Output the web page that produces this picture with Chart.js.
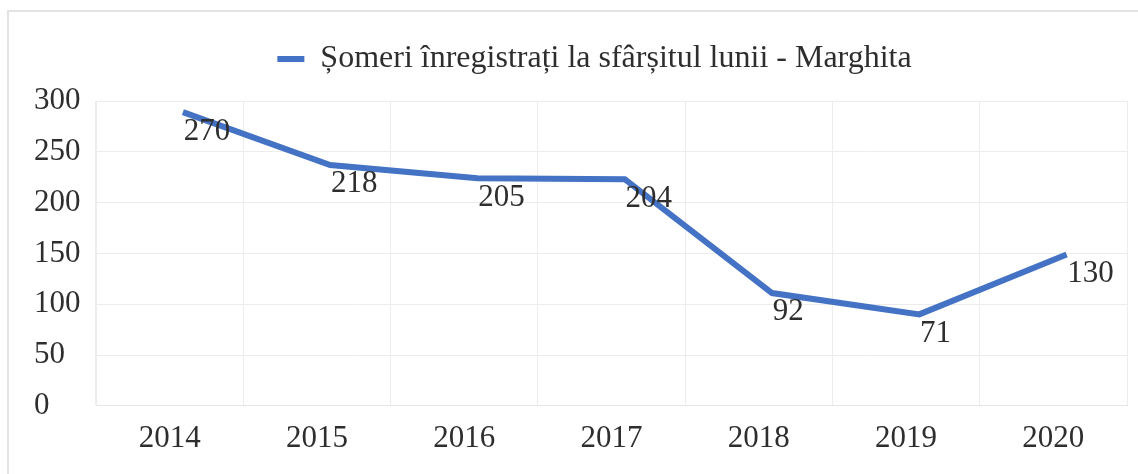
<!DOCTYPE html>
<html>
<head>
<meta charset="utf-8">
<script src="https://cdn.jsdelivr.net/npm/chart.js@4"></script>
<style>
  html, body { margin: 0; padding: 0; background: #fff; }
  #wrap { position: relative; width: 1138px; height: 474px; overflow: hidden; }
  #frame { position: absolute; left: 7px; top: 10px; width: 1200px; height: 500px;
           border-left: 2px solid #e3e3e3; border-top: 2px solid #e3e3e3; box-sizing: border-box; }
  canvas { position: absolute; left: 0; top: 0; }
</style>
</head>
<body>
<div id="wrap">
  <div id="frame"></div>
  <canvas id="c" width="1138" height="474"></canvas>
</div>
<script>
const categories = ['2014', '2015', '2016', '2017', '2018', '2019', '2020'];
const values = [270, 218, 205, 204, 92, 71, 130];
const seriesLabel = 'Șomeri înregistrați la sfârșitul lunii - Marghita';
const yTicks = [0, 50, 100, 150, 200, 250, 300];

const FONT = 'Liberation Serif';
const TEXT = '#2e2e2e';
const BLUE = '#4472C4';

const legendGap = {
  id: 'legendGap',
  beforeInit(chart) {
    const origFit = chart.legend.fit;
    chart.legend.fit = function () {
      origFit.call(this);
      this.height += 16;
    };
  },
  afterLayout(chart) {
    chart.legend.left += 14;
    chart.legend.right += 14;
  }
};

const valueLabels = {
  id: 'valueLabels',
  afterDatasetsDraw(chart) {
    const ctx = chart.ctx;
    const xs = chart.scales.x, ys = chart.scales.y;
    ctx.save();
    ctx.font = '31px "' + FONT + '"';
    ctx.fillStyle = TEXT;
    ctx.textAlign = 'left';
    ctx.textBaseline = 'middle';
    values.forEach((v, i) => {
      ctx.fillText(String(v), xs.getPixelForValue(i) + 14, ys.getPixelForValue(v));
    });
    ctx.restore();
  }
};

new Chart(document.getElementById('c'), {
  type: 'line',
  data: {
    labels: categories,
    datasets: [{
      label: seriesLabel,
      data: values.map((v, i) => ({ x: i, y: v })),
      xAxisID: 'xl',
      yAxisID: 'yl',
      borderColor: BLUE,
      backgroundColor: BLUE,
      borderWidth: 6,
      pointRadius: 0,
      fill: false,
      tension: 0
    }]
  },
  options: {
    responsive: false,
    animation: false,
    events: [],
    layout: { padding: { top: 20, left: 34, right: 11, bottom: 3 } },
    plugins: {
      legend: {
        display: true,
        position: 'top',
        labels: {
          font: { family: FONT, size: 32 },
          color: TEXT,
          boxWidth: 27,
          boxHeight: 6,
          padding: 23,
          generateLabels(chart) {
            return Chart.defaults.plugins.legend.labels.generateLabels(chart).map(item => {
              item.lineWidth = 0;
              return item;
            });
          }
        }
      },
      tooltip: { enabled: false },
      title: { display: false }
    },
    scales: {
      x: {
        type: 'category',
        offset: true,
        grid: { offset: true, color: '#ececec', lineWidth: 1, drawTicks: false },
        border: { display: true, color: '#e6e6e6' },
        ticks: { font: { family: FONT, size: 31 }, color: TEXT, padding: 14 }
      },
      y: {
        min: 0,
        max: 300,
        afterBuildTicks(scale) { scale.ticks = yTicks.map(v => ({ value: v })); },
        afterFit(scale) { scale.width = 62; },
        grid: { color: '#ececec', lineWidth: 1, drawTicks: false },
        border: { display: true, color: '#ececec' },
        ticks: { font: { family: FONT, size: 31 }, color: TEXT, crossAlign: 'far', padding: 14 }
      },
      xl: { type: 'linear', display: false, min: -0.59, max: 6.41 },
      yl: { type: 'linear', display: false, min: -19, max: 281 }
    }
  },
  plugins: [legendGap, valueLabels]
});
</script>
</body>
</html>
